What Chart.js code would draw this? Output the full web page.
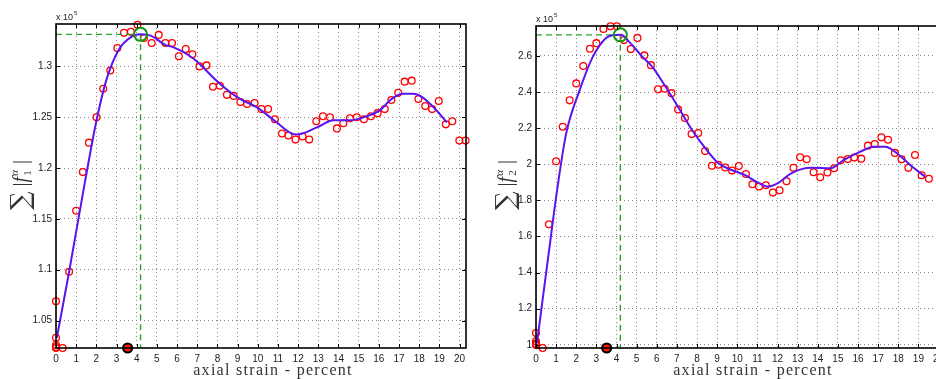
<!DOCTYPE html>
<html>
<head>
<meta charset="utf-8">
<script src="https://cdn.jsdelivr.net/npm/chart.js@4/dist/chart.umd.min.js"></script>
<style>
  html, body { margin: 0; padding: 0; background: #fff; }
  body { width: 936px; height: 379px; overflow: hidden; position: relative; }
  .panel { position: absolute; top: 0; height: 379px; width: 480px; }
</style>
</head>
<body>
<div class="panel" style="left:0"><canvas id="chart1"></canvas></div>
<div class="panel" style="left:480px"><canvas id="chart2"></canvas></div>
<script>
// values (force sums in units of 1e5)
const xTicks = [0,1,2,3,4,5,6,7,8,9,10,11,12,13,14,15,16,17,18,19,20];
const yTicks1 = [1.05, 1.1, 1.15, 1.2, 1.25, 1.3];
const yTicks2 = [1, 1.2, 1.4, 1.6, 1.8, 2, 2.2, 2.4, 2.6];

// panel 1 - measured points
const strain1 = [0,0,0,0,0,0.33,0.65,1.00,1.33,1.63,2.01,2.34,2.69,3.04,3.37,3.71,4.04,4.36,4.74,5.09,5.42,5.75,6.09,6.43,6.76,7.11,7.46,7.78,8.12,8.47,8.81,9.14,9.47,9.84,10.18,10.51,10.85,11.20,11.52,11.87,12.22,12.55,12.90,13.23,13.58,13.92,14.24,14.57,14.91,15.26,15.61,15.94,16.29,16.62,16.96,17.28,17.63,17.96,18.30,18.64,18.97,19.32,19.64,19.99,20.30];
const force1 = [1.069,1.033,1.026,1.024,1.023,1.023,1.098,1.158,1.196,1.225,1.250,1.278,1.296,1.318,1.333,1.334,1.341,1.328,1.323,1.331,1.323,1.323,1.310,1.317,1.312,1.300,1.301,1.280,1.281,1.272,1.271,1.265,1.263,1.264,1.258,1.258,1.248,1.234,1.232,1.228,1.231,1.228,1.246,1.251,1.250,1.239,1.244,1.249,1.250,1.248,1.251,1.254,1.258,1.267,1.274,1.285,1.286,1.268,1.261,1.258,1.266,1.243,1.246,1.227,1.227];
// panel 1 - smoothed fit
const fitStrain1 = [0.04,0.65,1.36,2.0,2.5,3.1,3.73,4.23,4.72,5.43,5.8,6.79,8.12,9.12,9.94,10.93,11.68,11.93,12.93,13.76,14.57,15.4,16.06,16.64,17.21,17.71,18.13,18.7,19.37];
const fitForce1 = [1.033,1.098,1.178,1.246,1.287,1.316,1.329,1.3315,1.330,1.321,1.319,1.308,1.283,1.268,1.260,1.245,1.234,1.233,1.240,1.247,1.247,1.251,1.257,1.268,1.273,1.273,1.270,1.260,1.245];
const peak1 = [4.19, 1.3315];
const yRange1 = [1.023, 1.3417];

// panel 2 - measured points
const strain2 = [0,0,0,0,0.33,0.64,1.00,1.33,1.67,2.00,2.35,2.68,3.00,3.35,3.70,4.02,4.37,4.71,5.04,5.38,5.71,6.06,6.39,6.73,7.06,7.40,7.73,8.06,8.40,8.74,9.06,9.40,9.74,10.08,10.43,10.75,11.08,11.42,11.77,12.10,12.45,12.79,13.12,13.45,13.79,14.12,14.48,14.81,15.14,15.49,15.81,16.16,16.49,16.83,17.16,17.49,17.83,18.16,18.50,18.83,19.16,19.52];
const force2 = [1.065,1.019,1.006,0.999,0.982,1.668,2.017,2.208,2.354,2.448,2.544,2.640,2.671,2.749,2.765,2.765,2.688,2.638,2.700,2.603,2.549,2.415,2.418,2.394,2.304,2.256,2.167,2.173,2.073,1.992,1.997,1.982,1.965,1.990,1.946,1.889,1.877,1.884,1.843,1.856,1.906,1.980,2.039,2.028,1.956,1.928,1.954,1.978,2.022,2.029,2.037,2.031,2.103,2.112,2.149,2.136,2.063,2.028,1.980,2.051,1.939,1.920];
// panel 2 - smoothed fit
const fitStrain2 = [0.05,0.82,1.05,1.5,2.17,2.82,3.48,3.81,4.22,4.63,5.29,5.78,6.44,7.1,7.75,8.41,9.06,9.72,10.37,11.03,11.53,12.02,12.68,13.65,14.63,15.3,16.12,16.78,17.36,17.93,18.59,19.33];
const fitForce2 = [1.01,1.668,1.858,2.171,2.411,2.595,2.70,2.715,2.717,2.678,2.595,2.54,2.429,2.31,2.19,2.089,2.006,1.968,1.941,1.898,1.876,1.895,1.95,1.981,1.978,2.024,2.07,2.097,2.097,2.061,1.996,1.931];
const peak2 = [4.19, 2.717];
const yRange2 = [0.982, 2.766];

const bottomMarkX = [3.55, 3.51];

function pts(xs, ys) { return xs.map((x, i) => ({x: x, y: ys[i]})); }

// box, inward ticks, axis label and exponent note
const framePlugin = {
    id: 'frame',
    afterDraw(chart) {
        const {ctx, chartArea: a, scales} = chart;
        const o = chart.options.plugins.frame;
        ctx.save();
        ctx.strokeStyle = '#000';
        ctx.lineWidth = 1;
        ctx.beginPath();
        scales.x.ticks.forEach(t => {
            const px = Math.round(scales.x.getPixelForValue(t.value)) + 0.5;
            ctx.moveTo(px, a.bottom); ctx.lineTo(px, a.bottom - 4);
            ctx.moveTo(px, a.top); ctx.lineTo(px, a.top + 4);
        });
        scales.y.ticks.forEach(t => {
            const py = Math.round(scales.y.getPixelForValue(t.value)) + 0.5;
            ctx.moveTo(a.left, py); ctx.lineTo(a.left + 4, py);
            ctx.moveTo(a.right, py); ctx.lineTo(a.right - 4, py);
        });
        ctx.stroke();
        ctx.lineWidth = 1.6;
        ctx.strokeRect(a.left, a.top, a.right - a.left, a.bottom - a.top);

        // exponent note
        ctx.fillStyle = '#222';
        ctx.font = '9px "Liberation Sans", Arial, sans-serif';
        ctx.textBaseline = 'alphabetic';
        ctx.fillText('x 10', a.left, a.top - 4);
        const w = ctx.measureText('x 10').width;
        ctx.font = '6px "Liberation Sans", Arial, sans-serif';
        ctx.fillText('5', a.left + w + 1, a.top - 9);

        // x title
        ctx.fillStyle = '#333';
        ctx.font = '16px "Liberation Serif", "DejaVu Serif", serif';
        ctx.letterSpacing = '1.3px';
        ctx.textAlign = 'center';
        ctx.textBaseline = 'middle';
        ctx.fillText('axial strain - percent', a.left + 217, 371);
        ctx.letterSpacing = '0px';

        // rotated y label:  sum |f_k^alpha|
        ctx.translate(o.labelX, 186);
        ctx.rotate(-Math.PI / 2);
        ctx.textAlign = 'left';
        ctx.textBaseline = 'middle';
        const parts = [
            {t: '\u2211', f: '26px "DejaVu Serif", serif', dy: 0},
            {t: ' |', f: '20px "Liberation Serif", serif', dy: 0},
            {t: 'f', f: 'italic 20px "Liberation Serif", serif', dy: 0},
            {t: '\u03b1', f: 'italic 11px "Liberation Serif", serif', dy: -7, kern: 1},
            {t: o.sub, f: '11px "Liberation Serif", serif', dy: 6, back: true},
            {t: ' |', f: '20px "Liberation Serif", serif', dy: 0}
        ];
        let total = 0, prevW = 0;
        parts.forEach(p => { ctx.font = p.f; p.w = ctx.measureText(p.t).width; });
        parts.forEach(p => { total += p.back ? Math.max(0, p.w - prevW) : p.w; prevW = p.w; });
        let cx = -total / 2, lastX = 0;
        prevW = 0;
        parts.forEach(p => {
            ctx.font = p.f;
            let x = p.back ? lastX : cx + (p.kern || 0);
            ctx.fillText(p.t, x, p.dy);
            if (p.back) { cx = lastX + Math.max(p.w, prevW) + 1; }
            else { lastX = x; cx = x + p.w; }
            prevW = p.w;
        });
        ctx.restore();
    }
};

function makePanel(id, s, f, fs, ff, peak, yRange, yTicks, bx, sub, padRight, padTop, labelX) {
    const greenDash = {type: 'line', borderColor: '#2ca02c', borderWidth: 1.4, borderDash: [6, 4],
        pointRadius: 0, fill: false, order: 3};
    return new Chart(document.getElementById(id), {
        type: 'scatter',
        data: {
            datasets: [
                Object.assign({data: [{x: 0, y: peak[1]}, {x: peak[0], y: peak[1]}]}, greenDash),
                Object.assign({data: [{x: peak[0], y: peak[1]}, {x: peak[0], y: yRange[0]}]}, greenDash),
                {data: pts(s, f), pointStyle: 'circle', pointRadius: 3.4, pointBorderWidth: 1.3,
                 pointBorderColor: '#ff0000', pointBackgroundColor: 'rgba(0,0,0,0)', clip: false, order: 4},
                {type: 'line', data: pts(fs, ff), borderColor: '#5a14f0', borderWidth: 2,
                 pointRadius: 0, cubicInterpolationMode: 'monotone', fill: false, order: 2},
                {data: [{x: peak[0], y: peak[1]}], pointRadius: 6.5, pointBorderWidth: 2,
                 pointBorderColor: '#139a13', pointBackgroundColor: 'rgba(0,0,0,0)', order: 1},
                {data: [{x: bx, y: yRange[0]}], pointRadius: 4.5, pointBorderWidth: 2.2,
                 pointBorderColor: '#000', pointBackgroundColor: '#ff1a00', clip: false, order: 0}
            ]
        },
        options: {
            responsive: true,
            maintainAspectRatio: false,
            animation: false,
            layout: {padding: {top: padTop, right: padRight, left: 0, bottom: 0}},
            plugins: {legend: {display: false}, tooltip: {enabled: false},
                      frame: {sub: sub, labelX: labelX}},
            scales: {
                x: {
                    type: 'linear', min: 0, max: 20.32,
                    afterBuildTicks: sc => { sc.ticks = xTicks.map(v => ({value: v})); },
                    afterFit: sc => { sc.height = 31; },
                    grid: {color: '#8a8a8a', drawTicks: false},
                    border: {display: false, dash: [1, 3]},
                    ticks: {padding: 5, color: '#222', autoSkip: false, maxRotation: 0,
                            font: {family: '"Liberation Sans", Arial, sans-serif', size: 10},
                            callback: v => String(v)}
                },
                y: {
                    type: 'linear', min: yRange[0], max: yRange[1],
                    afterBuildTicks: sc => { sc.ticks = yTicks.map(v => ({value: v})); },
                    afterFit: sc => { sc.width = 56; },
                    grid: {color: '#8a8a8a', drawTicks: false},
                    border: {display: false, dash: [1, 3]},
                    ticks: {padding: 4, color: '#222', font: {family: '"Liberation Sans", Arial, sans-serif', size: 10},
                            callback: v => String(+v.toFixed(2))}
                }
            }
        },
        plugins: [framePlugin]
    });
}

makePanel('chart1', strain1, force1, fitStrain1, fitForce1, peak1, yRange1, yTicks1, bottomMarkX[0], '1', 14, 24, 22);
makePanel('chart2', strain2, force2, fitStrain2, fitForce2, peak2, yRange2, yTicks2, bottomMarkX[1], '2', 15, 26, 27);
</script>
</body>
</html>
